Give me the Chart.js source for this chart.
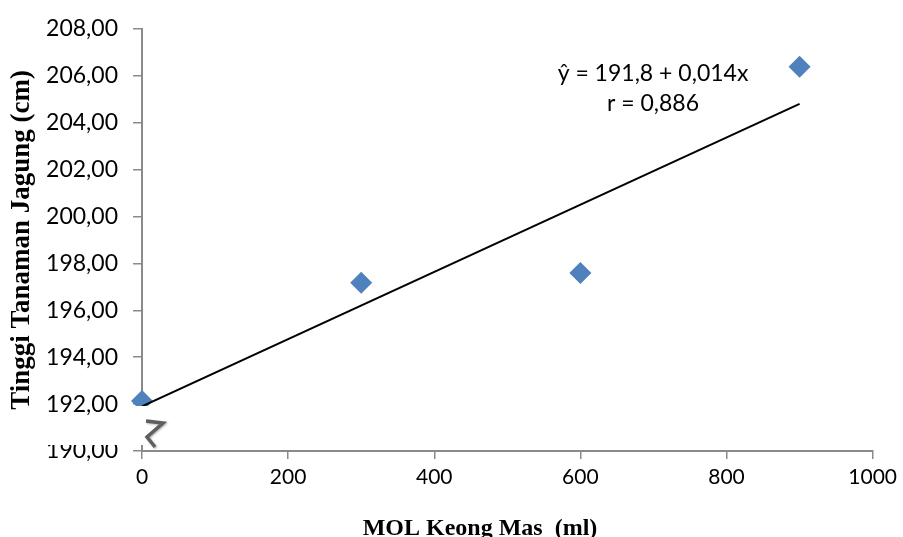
<!DOCTYPE html>
<html>
<head>
<meta charset="utf-8">
<script src="https://cdn.jsdelivr.net/npm/chart.js@4"></script>
<style>
  html, body { margin: 0; padding: 0; background: #fff; }
  #wrap { width: 903px; height: 537px; }
</style>
</head>
<body>
<div id="wrap"><canvas id="myChart"></canvas></div>
<script>
// Data
const doses = [0, 300, 600, 900]
const heights = [192.13, 197.17, 197.59, 206.38]
const trendX = [0, 900]
const trendY = [191.9, 204.8]
const xTicks = [0, 200, 400, 600, 800, 1000]
const yTicks = [190, 192, 194, 196, 198, 200, 202, 204, 206, 208]

const xTitle = 'MOL Keong Mas  (ml)'
const yTitle = 'Tinggi Tanaman Jagung (cm)'
const equationText = 'ŷ = 191,8 + 0,014x'
const rText = 'r = 0,886'

const axisGray = '#8a8a8a'

// Equation, x title and the axis break mark
const extras = {
    id: 'extras',
    afterDraw(chart) {
        const { ctx, chartArea: a } = chart

        ctx.save()

        // axis break (white patch + zigzag)
        ctx.fillStyle = '#fff'
        ctx.fillRect(a.left - 102, a.bottom - 30, 127, 24)
        ctx.fillRect(a.left - 24, a.bottom - 45, 49, 39)

        ctx.strokeStyle = '#5f5f5f'
        ctx.lineWidth = 3.5
        ctx.lineJoin = 'miter'
        ctx.shadowColor = 'rgba(0,0,0,0.3)'
        ctx.shadowBlur = 2
        ctx.shadowOffsetX = 1
        ctx.shadowOffsetY = 1
        ctx.beginPath()
        ctx.moveTo(a.left + 4, a.bottom - 30)
        ctx.lineTo(a.left + 21, a.bottom - 28)
        ctx.lineTo(a.left + 5, a.bottom - 14)
        ctx.lineTo(a.left + 13, a.bottom - 4)
        ctx.stroke()
        ctx.restore()

        ctx.save()
        ctx.fillStyle = '#000'
        ctx.textAlign = 'center'
        ctx.textBaseline = 'middle'
        ctx.font = '23px Lato'
        ctx.fillText(equationText, 653, 74)
        ctx.fillText(rText, 653, 104)

        ctx.font = 'bold 24px "Liberation Serif"'
        ctx.textBaseline = 'alphabetic'
        ctx.fillText(xTitle, 480, 535)
        ctx.restore()
    }
}

const ctx = document.getElementById('myChart')

new Chart(ctx, {
    type: 'scatter',
    data: {
        datasets: [{
            type: 'line',
            data: trendX.map((x, i) => ({ x: x, y: trendY[i] })),
            borderColor: '#000',
            borderWidth: 2,
            pointRadius: 0,
            fill: false
        }, {
            data: doses.map((x, i) => ({ x: x, y: heights[i] })),
            clip: false,
            pointStyle: 'rectRot',
            pointRadius: 11,
            pointHoverRadius: 11,
            backgroundColor: '#4F81BD',
            borderColor: '#4F81BD',
            borderWidth: 0
        }]
    },
    options: {
        responsive: true,
        maintainAspectRatio: false,
        animation: false,
        events: [],
        layout: {
            padding: { top: 27, right: 25, left: 0, bottom: 0 }
        },
        plugins: {
            legend: { display: false },
            tooltip: { enabled: false }
        },
        scales: {
            x: {
                type: 'linear',
                min: 0,
                max: 1000,
                afterFit: s => { s.height = 86 },
                afterBuildTicks: s => { s.ticks = xTicks.map(v => ({ value: v })) },
                ticks: {
                    color: '#000',
                    font: { family: 'Lato', size: 21 },
                    padding: 6,
                    maxRotation: 0,
                    callback: v => String(v)
                },
                grid: {
                    drawOnChartArea: false,
                    color: axisGray,
                    lineWidth: 1.5,
                    tickLength: 8
                },
                border: { color: axisGray, width: 2 }
            },
            y: {
                type: 'linear',
                min: 190,
                max: 208,
                afterFit: s => { s.width = 142 },
                afterBuildTicks: s => { s.ticks = yTicks.map(v => ({ value: v })) },
                ticks: {
                    color: '#000',
                    font: { family: 'Lato', size: 23 },
                    padding: 15,
                    callback: v => v.toFixed(2).replace('.', ',')
                },
                grid: {
                    drawOnChartArea: false,
                    color: axisGray,
                    lineWidth: 1.5,
                    tickLength: 9
                },
                border: { color: axisGray, width: 2 },
                title: {
                    display: true,
                    text: yTitle,
                    color: '#000',
                    font: { family: 'Liberation Serif', size: 27, weight: 'bold' },
                    padding: { top: 6, bottom: 0 }
                }
            }
        }
    },
    plugins: [extras]
})
</script>
</body>
</html>
